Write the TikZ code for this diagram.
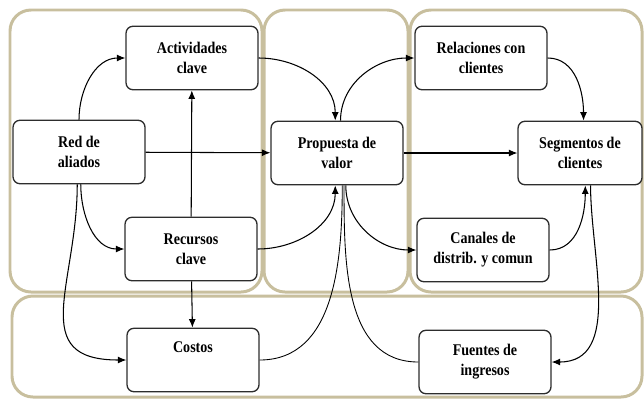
\documentclass[tikz,border=0pt]{standalone}
\usepackage{fontspec}
\setmainfont{Liberation Serif}[FakeStretch=0.86]
\usepackage{tikz}
\usetikzlibrary{arrows.meta}

\definecolor{grupo}{RGB}{200,191,158}
\definecolor{borde}{RGB}{45,45,45}

\begin{document}
\begin{tikzpicture}[x=0.02cm, y=-0.02cm,
    bloque/.style={draw=borde, line width=0.75pt, rounded corners=4pt, fill=white,
        minimum width=2.64cm, minimum height=1.27cm, align=center,
        font=\bfseries\fontsize{9.3}{11.3}\selectfont},
    grp/.style={draw=grupo, line width=1.7pt, rounded corners=0.42cm},
    flecha/.style={-{Latex[length=1.7mm,width=1.4mm]}, line width=0.6pt},
    linea/.style={line width=0.5pt}
]
\useasboundingbox (0,0) rectangle (644,399);

%------------------------ grupos de fondo ------------------------
\draw[grp] (10,10) rectangle (262,292);
\draw[grp] (264,10) rectangle (408,292);
\draw[grp] (410,10) rectangle (642,292);
\draw[grp] (12,296) rectangle (642,397);

%------------------------ bloques ------------------------
\node[bloque] (act) at (192,58)  {Actividades\\clave};
\node[bloque] (ali) at (79,152)  {Red de\\aliados};
\node[bloque] (rec) at (191,249) {Recursos\\clave};
\node[bloque] (cos) at (193,360) {Costos\\\strut};
\node[bloque] (pro) at (337,153) {Propuesta de\\valor};
\node[bloque] (rel) at (481,58)  {Relaciones con\\clientes};
\node[bloque, minimum width=2.48cm] (seg) at (580,153) {Segmentos de\\clientes};
\node[bloque] (can) at (483,250) {Canales de\\distrib. y comun};
\node[bloque] (fue) at (485,362) {Fuentes de\\ingresos};

%------------------------ conexiones ------------------------
\draw[flecha] (ali.north) to[out=90, in=180] (act.west);
\draw[flecha] (ali) -- (pro);
\draw[flecha] (rec) -- (act);
\draw[flecha] ([xshift=1pt]ali.south) to[out=-90, in=180] (rec.west);
\draw[flecha] ([xshift=-1pt]ali.south) to[out=-90, in=180, looseness=1.4] (cos.west);
\draw[flecha] (rec) -- (cos);

% hacia y desde la propuesta de valor
\draw[flecha] (act.east) to[out=0, in=90] ([xshift=-1pt]pro.north);
\draw[flecha] ([xshift=2pt]pro.north) to[out=90, in=180] (rel.west);
\draw[flecha] (pro) -- (seg);
\draw[flecha] (rec.east) to[out=0, in=-90] ([xshift=-1pt]pro.south);
\draw[flecha] ([xshift=5pt]pro.south) to[out=-90, in=180] (can.west);
\draw[linea] (cos.east) to[out=0, in=-90] ([xshift=3pt]pro.south);
\draw[linea] (fue.west) to[out=180, in=-90] ([xshift=4pt]pro.south);

% lado de clientes
\draw[flecha] (rel.east) to[out=0, in=90] ([xshift=2pt]seg.north);
\draw[flecha] (can.east) to[out=0, in=-90] ([xshift=3pt]seg.south);
\draw[flecha] ([xshift=6pt]seg.south) to[out=-90, in=0] (fue.east);

\end{tikzpicture}
\end{document}
